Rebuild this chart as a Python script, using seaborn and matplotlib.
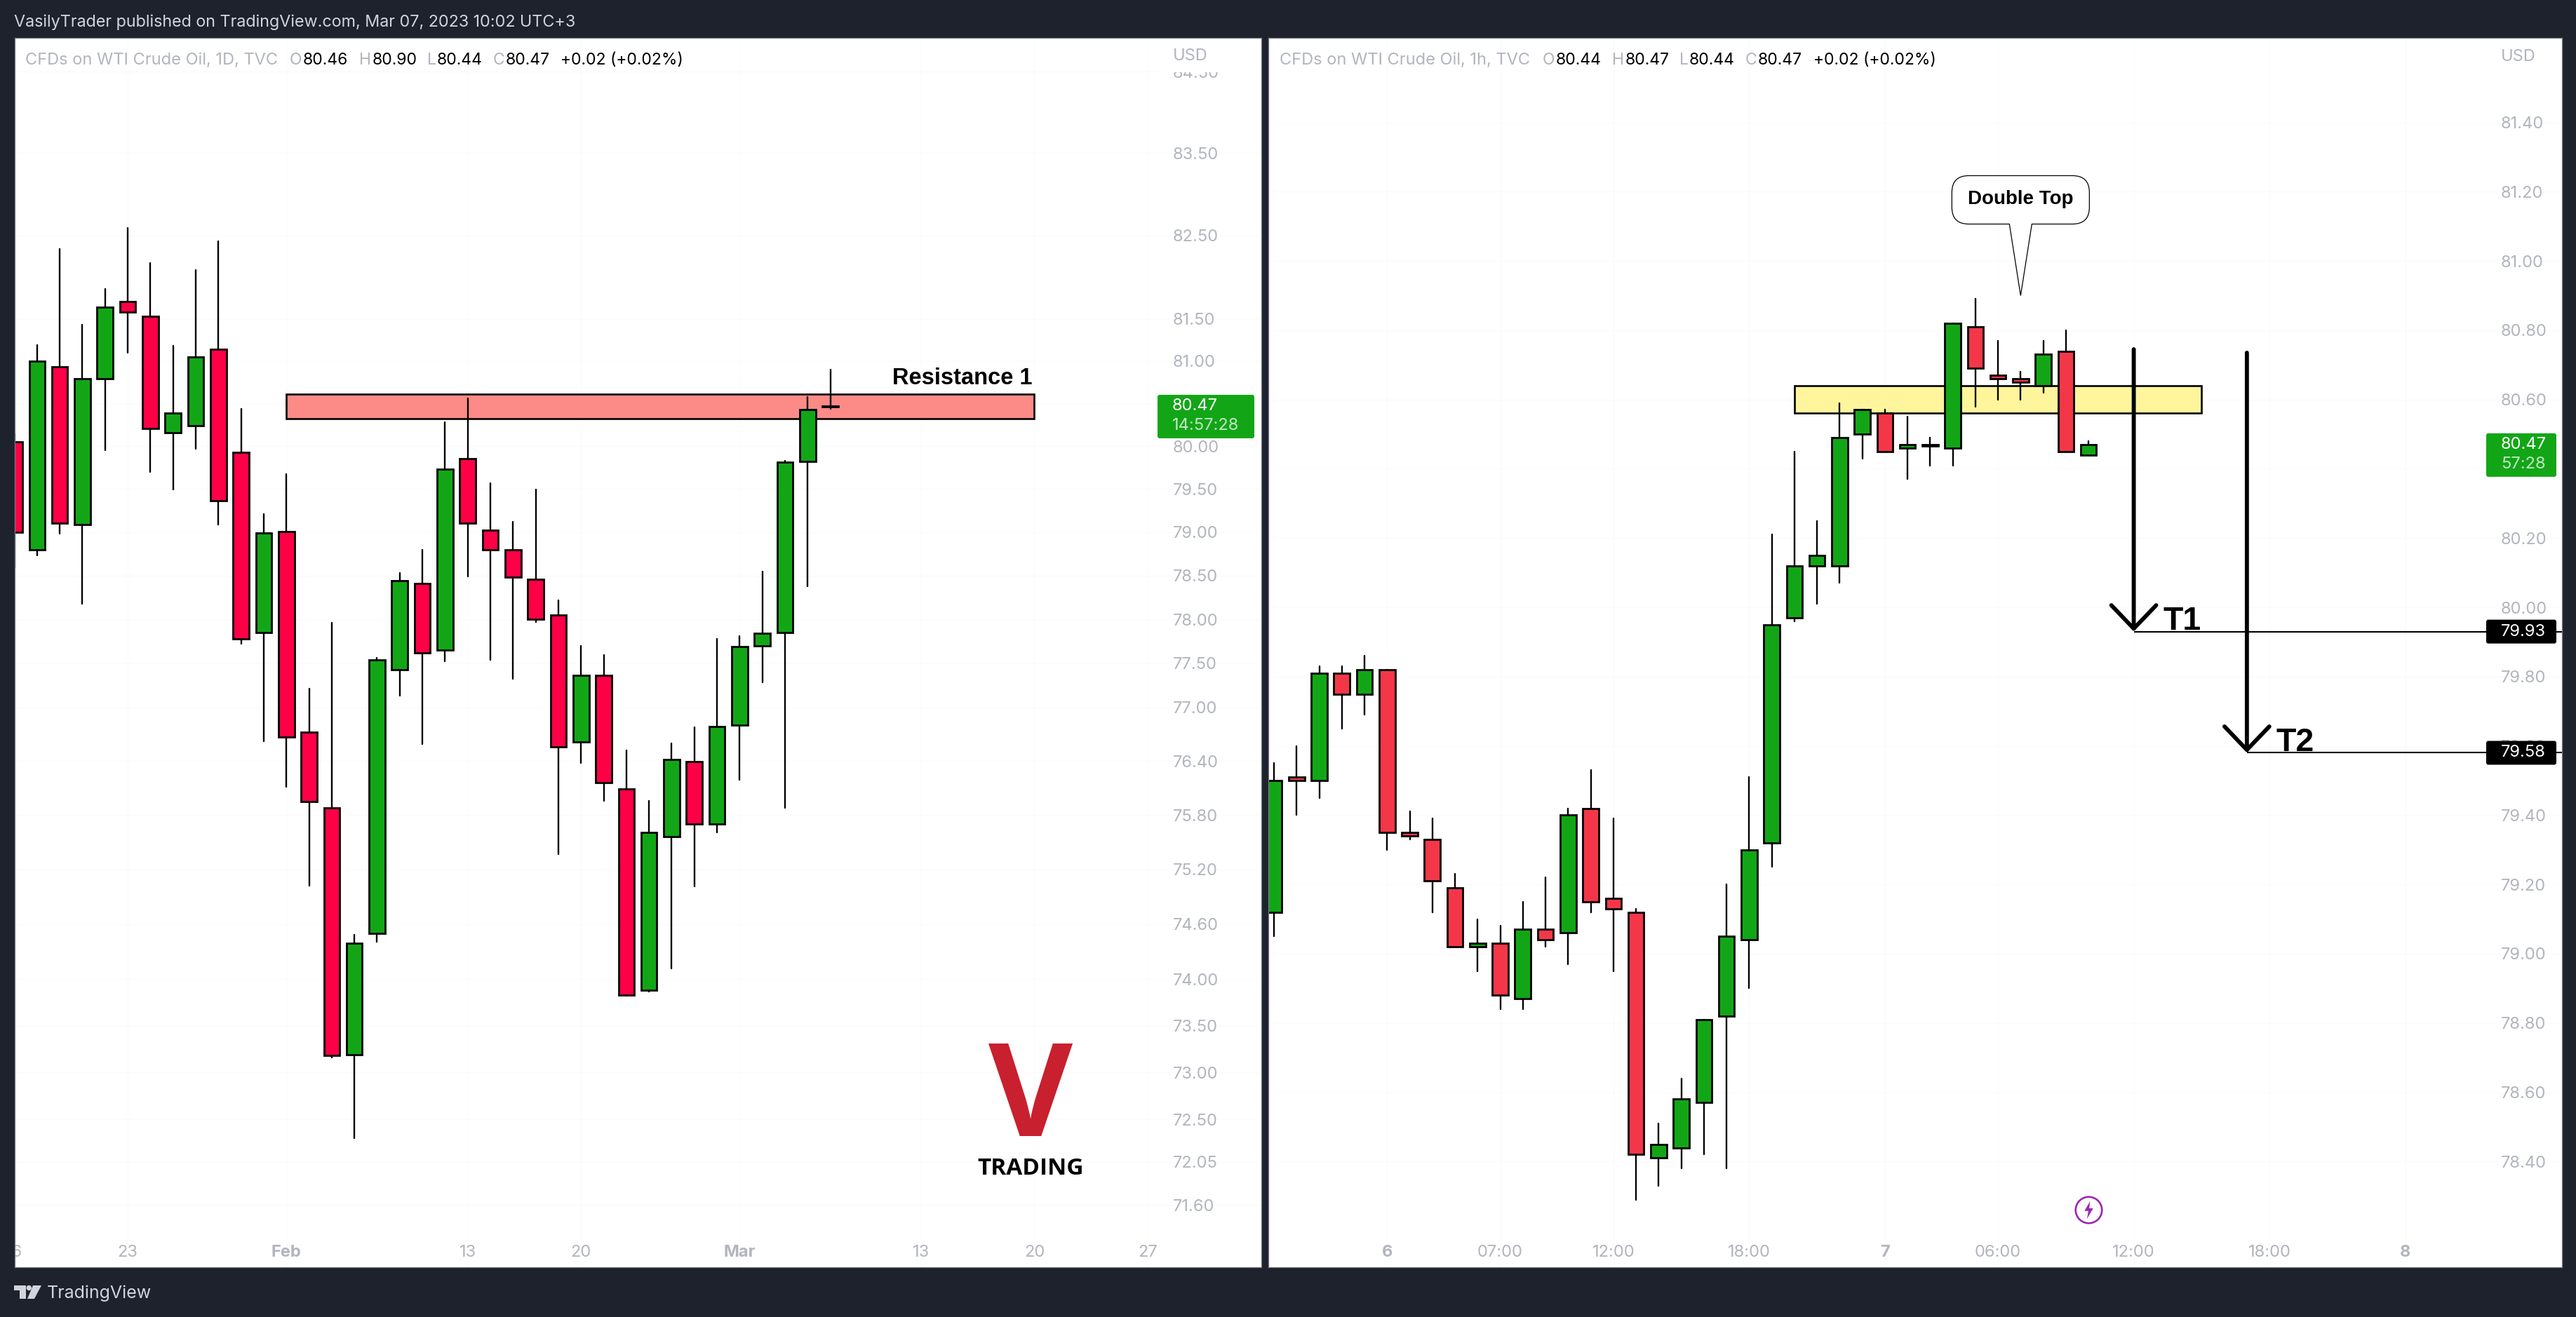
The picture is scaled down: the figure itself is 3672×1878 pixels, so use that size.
import matplotlib
matplotlib.use('Agg')
import matplotlib.pyplot as plt
import matplotlib.patches as mpatches
from matplotlib.path import Path
from matplotlib.ticker import NullLocator
from matplotlib.transforms import IdentityTransform
import pandas as pd
import seaborn as sns

# daily candles
d1_open = [80.05, 78.80, 80.93, 79.09, 80.79, 81.71, 81.53, 80.16, 80.24, 81.14, 79.93, 77.85, 79.01,
           76.72, 75.88, 73.19, 74.50, 77.43, 78.41, 77.65, 79.85, 79.02, 78.80, 78.46, 78.05, 76.61,
           77.36, 76.09, 73.88, 75.56, 76.39, 75.70, 76.80, 77.70, 77.85, 79.82, 80.46]
d1_high = [80.15, 81.19, 82.34, 81.43, 81.86, 82.59, 82.17, 81.18, 82.09, 82.43, 80.44, 79.21, 79.67,
           77.21, 77.96, 74.48, 77.56, 78.53, 78.80, 80.28, 80.56, 79.57, 79.12, 79.49, 78.22, 77.70,
           77.59, 76.52, 75.96, 76.60, 76.78, 77.78, 77.81, 78.55, 79.83, 80.58, 80.90]
d1_low = [78.59, 78.73, 78.98, 78.18, 79.95, 81.10, 79.70, 79.49, 79.97, 79.09, 77.72, 76.62, 76.11,
          75.02, 73.16, 72.30, 74.41, 77.13, 76.59, 77.52, 78.49, 77.54, 77.32, 77.97, 75.37, 76.38,
          75.96, 73.82, 73.87, 74.12, 75.01, 75.61, 76.19, 77.28, 75.88, 78.38, 80.44]
d1_close = [79.00, 81.00, 79.10, 80.79, 81.64, 81.58, 80.21, 80.39, 81.05, 79.36, 77.78, 78.99, 76.67,
            75.95, 73.18, 74.39, 77.54, 78.44, 77.62, 79.73, 79.10, 78.80, 78.48, 78.00, 76.56, 77.36,
            76.16, 73.83, 75.61, 76.42, 75.70, 76.79, 77.69, 77.84, 79.81, 80.43, 80.47]

# hourly candles
h1_open = [79.12, 79.51, 79.50, 79.81, 79.75, 79.82, 79.35, 79.33, 79.19, 79.02, 79.03, 78.87, 79.07,
           79.06, 79.42, 79.16, 79.12, 78.41, 78.44, 78.57, 78.82, 79.04, 79.32, 79.97, 80.12, 80.12,
           80.50, 80.56, 80.46, 80.465, 80.46, 80.81, 80.67, 80.66, 80.64, 80.74, 80.44]
h1_high = [79.55, 79.60, 79.83, 79.83, 79.86, 79.82, 79.41, 79.39, 79.23, 79.10, 79.08, 79.15, 79.22,
           79.42, 79.53, 79.39, 79.13, 78.51, 78.64, 78.81, 79.20, 79.51, 80.21, 80.45, 80.25, 80.59,
           80.57, 80.57, 80.55, 80.49, 80.82, 80.89, 80.77, 80.68, 80.77, 80.80, 80.48]
h1_low = [79.05, 79.40, 79.45, 79.65, 79.69, 79.30, 79.33, 79.12, 79.02, 78.95, 78.84, 78.84, 79.02,
          78.97, 79.12, 78.95, 78.29, 78.33, 78.38, 78.42, 78.38, 78.90, 79.25, 79.96, 80.01, 80.07,
          80.43, 80.45, 80.37, 80.41, 80.41, 80.58, 80.60, 80.60, 80.62, 80.45, 80.44]
h1_close = [79.50, 79.50, 79.81, 79.75, 79.82, 79.35, 79.34, 79.21, 79.02, 79.03, 78.88, 79.07, 79.04,
            79.40, 79.15, 79.13, 78.42, 78.45, 78.58, 78.81, 79.05, 79.30, 79.95, 80.12, 80.15, 80.49,
            80.57, 80.45, 80.47, 80.47, 80.82, 80.69, 80.66, 80.65, 80.73, 80.45, 80.47]

# axes
d1_yticks = [84.5, 83.5, 82.5, 81.5, 81.0, 80.5, 80.0, 79.5, 79.0, 78.5, 78.0, 77.5, 77.0, 76.4, 75.8,
             75.2, 74.6, 74.0, 73.5, 73.0, 72.5, 72.05, 71.6]
h1_yticks = [81.4, 81.2, 81.0, 80.8, 80.6, 80.4, 80.2, 80.0, 79.8, 79.6, 79.4, 79.2, 79.0, 78.8, 78.6, 78.4]
d1_xticks = [0, 5, 12, 20, 25, 32, 40, 45, 50]
d1_xlabels = ['16', '23', 'Feb', '13', '20', 'Mar', '13', '20', '27']
h1_xticks = [5, 10, 15, 21, 27, 32, 38, 44, 50]
h1_xlabels = ['6', '07:00', '12:00', '18:00', '7', '06:00', '12:00', '18:00', '8']
bold_labels = ['Feb', 'Mar', '6', '7', '8']

# drawings on the charts
resistance_zone = (12, 45, 80.32, 80.61)
double_top_zone = (23, 41, 80.56, 80.64)
targets = [('T1', 38, 80.745, 79.93), ('T2', 43, 80.735, 79.58)]
last_price = 80.47

BG = '#1E222D'
GREEN = '#12A617'
RED_D = '#FF0046'
RED_H = '#F43748'
AXIS_TXT = '#B2B5BE'
W, H = 3672, 1878

sns.set_theme(style='white')
plt.rcParams['font.family'] = ['Inter', 'DejaVu Sans']

fig = plt.figure(figsize=(W / 100, H / 100), dpi=100, facecolor=BG)


def make_axes(x0, x1, y0=54, y1=1807):
    return fig.add_axes([x0 / W, 1 - y1 / H, (x1 - x0) / W, (y1 - y0) / H])


def ptext(x, y, s, **kw):
    kw.setdefault('va', 'center')
    kw.setdefault('zorder', 8)
    return fig.text(x / W, 1 - y / H, s, **kw)


def prect(x0, y0, x1, y1, color, rounding=0, zorder=6):
    p = mpatches.FancyBboxPatch((x0, H - y1), x1 - x0, y1 - y0,
                                boxstyle=f'round,pad=0,rounding_size={rounding}',
                                fc=color, ec='none', transform=IdentityTransform(), zorder=zorder)
    fig.add_artist(p)


def draw_candles(ax, opens, highs, lows, closes, down_color):
    df = pd.DataFrame({'idx': range(len(opens)), 'open': opens, 'high': highs, 'low': lows, 'close': closes})
    wicks = df.melt(id_vars='idx', value_vars=['high', 'low'], value_name='price').sort_values('idx')
    sns.lineplot(data=wicks, x='idx', y='price', units='idx', estimator=None, color='black',
                 linewidth=1.7, sort=False, legend=False, ax=ax, zorder=0.8)
    df['bottom'] = df[['open', 'close']].min(axis=1)
    df['size'] = (df['close'] - df['open']).abs()
    for part, col in [(df[df['close'] >= df['open']], GREEN), (df[df['close'] < df['open']], down_color)]:
        sns.barplot(data=part, x='idx', y='size', bottom=part['bottom'].values, native_scale=True,
                    width=0.7, color=col, saturation=1, errorbar=None, edgecolor='black',
                    linewidth=2.0, ax=ax, zorder=1)
    ax.set(xlabel='', ylabel='')


def style_axes(ax, xlim, ylim, xticks, xlabels, yticks, ypad):
    ax.set_xlim(*xlim)
    ax.set_ylim(*ylim)
    ax.set_xticks(xticks, xlabels)
    ax.set_yticks(yticks, [f'{v:.2f}' for v in yticks])
    ax.yaxis.set_minor_locator(NullLocator())
    ax.yaxis.tick_right()
    ax.tick_params(axis='y', length=0, pad=ypad, labelsize=17, labelcolor=AXIS_TXT)
    ax.tick_params(axis='x', length=0, pad=-23, labelsize=17, labelcolor=AXIS_TXT)
    ax.set_axisbelow(True)
    ax.grid(True, color='#FBFBFC', linewidth=1)
    for lab in ax.get_xticklabels():
        lab.set_clip_on(True)
        lab.set_clip_box(ax.bbox)
        if lab.get_text() in bold_labels:
            lab.set_fontweight('bold')
    for sp in ax.spines.values():
        sp.set_color('#787B86')
        sp.set_linewidth(0.9)


def price_tag(ax, price, x0, x1, xtext, lines, color, top=16, bottom=18):
    y = H - ax.transData.transform((0, price))[1]
    prect(x0, y - top, x1, y + bottom, color, rounding=3)
    ptext(xtext, y, lines[0], color='white', fontsize=17)
    if len(lines) > 1:
        ptext(xtext, y + 28, lines[1], color='#C2E8C4', fontsize=17)


# left panel, 1D
ax1 = make_axes(20.5, 1797.5)
ax1.set_yscale('log')
draw_candles(ax1, d1_open, d1_high, d1_low, d1_close, RED_D)
style_axes(ax1, (0.034, 55.0), (70.95, 84.92), d1_xticks, d1_xlabels, d1_yticks, -90.7)
x0, x1, y0, y1 = resistance_zone
ax1.add_patch(mpatches.Rectangle((x0, y0), x1 - x0, y1 - y0, fc='#FC8A86', ec='black', lw=1.9, zorder=0.6))
ax1.text(x1 - 0.08, 80.73, 'Resistance 1', ha='right', va='baseline', family='Liberation Sans',
         fontweight='bold', fontsize=23.5, color='black')

# right panel, 1h
ax2 = make_axes(1808, 3651.5)
draw_candles(ax2, h1_open, h1_high, h1_low, h1_close, RED_H)
style_axes(ax2, (-0.248, 56.91), (78.095, 81.644), h1_xticks, h1_xlabels, h1_yticks, -62.3)
x0, x1, y0, y1 = double_top_zone
ax2.add_patch(mpatches.Rectangle((x0, y0), x1 - x0, y1 - y0, fc='#FFF59D', ec='black', lw=1.9, zorder=0.6))

for name, xpos, start, end in targets:
    ax2.hlines(end, xpos, 56.91, color='black', lw=1.5, zorder=3)
    ax2.annotate('', xy=(xpos, end), xytext=(xpos, start), zorder=4,
                 arrowprops=dict(arrowstyle='->,head_length=24,head_width=23', mutation_scale=1,
                                 lw=4.2, color='black', shrinkA=0, shrinkB=0,
                                 capstyle='round', joinstyle='round'))
    ax2.text(xpos + 1.3, end + 0.006, name, ha='left', va='baseline', family='Liberation Sans',
             fontweight='bold', fontsize=33.5, color='black', zorder=4)

# speech bubble pointing at the double top
tip_x, tip_y = ax2.transData.transform((33, 80.90))
L, R, T, B, r, tw = tip_x - 98, tip_x + 98, tip_y + 171, tip_y + 102, 24, 16
verts = [(L + r, B), (tip_x - tw, B), (tip_x, tip_y), (tip_x + tw, B), (R - r, B), (R, B), (R, B + r),
         (R, T - r), (R, T), (R - r, T), (L + r, T), (L, T), (L, T - r), (L, B + r), (L, B), (L + r, B)]
codes = [Path.MOVETO, Path.LINETO, Path.LINETO, Path.LINETO, Path.LINETO, Path.CURVE3, Path.CURVE3,
         Path.LINETO, Path.CURVE3, Path.CURVE3, Path.LINETO, Path.CURVE3, Path.CURVE3, Path.LINETO,
         Path.CURVE3, Path.CURVE3]
fig.add_artist(mpatches.PathPatch(Path(verts, codes), fc='white', ec='black', lw=0.9,
                                  transform=IdentityTransform(), zorder=6))
ptext(tip_x, H - tip_y - 137, 'Double Top', ha='center', family='Liberation Sans', fontweight='bold',
      fontsize=20, color='black')

# bolt marker
bolt = Path([(0.15, 1), (-0.5, -0.1), (-0.05, -0.1), (-0.2, -1), (0.5, 0.2), (0.05, 0.2), (0.15, 1)])
ax2.plot([36], [78.26], 'o', ms=27, mfc='white', mec='#9C27B0', mew=1.9, zorder=3)
ax2.plot([36], [78.26], marker=bolt, ms=18, color='#9C27B0', mew=0, zorder=4)

# price tags on the scales
price_tag(ax1, last_price, 1650, 1788, 1671, ['80.47', '14:57:28'], GREEN, top=16, bottom=46)
price_tag(ax2, last_price, 3544, 3644, 3565, ['80.47', '57:28'], GREEN, top=16, bottom=46)
for name, xpos, start, end in targets:
    price_tag(ax2, end, 3544, 3644, 3565, [f'{end:.2f}'], 'black', top=17, bottom=17)

# USD labels, the left one hides the top of the highest tick
prect(1650, 56, 1795, 103, 'white', zorder=5)
ptext(1672, 80, 'USD', color=AXIS_TXT, fontsize=17)
ptext(3565, 81, 'USD', color=AXIS_TXT, fontsize=17)

# header lines
ptext(20, 32, 'VasilyTrader published on TradingView.com, Mar 07, 2023 10:02 UTC+3', color='#D1D4DC', fontsize=16.8)
for x, s, c, size in [(36, 'CFDs on WTI Crude Oil, 1D, TVC', AXIS_TXT, 17), (413, 'O', AXIS_TXT, 16.5),
                      (432, '80.46', 'black', 16.5), (512, 'H', AXIS_TXT, 16.5), (531, '80.90', 'black', 16.5),
                      (609, 'L', AXIS_TXT, 16.5), (623, '80.44', 'black', 16.5), (703, 'C', AXIS_TXT, 16.5),
                      (721, '80.47', 'black', 16.5), (799, '+0.02 (+0.02%)', 'black', 16.5),
                      (1824, 'CFDs on WTI Crude Oil, 1h, TVC', AXIS_TXT, 17), (2199, 'O', AXIS_TXT, 16.5),
                      (2218, '80.44', 'black', 16.5), (2298, 'H', AXIS_TXT, 16.5), (2317, '80.47', 'black', 16.5),
                      (2394, 'L', AXIS_TXT, 16.5), (2408, '80.44', 'black', 16.5), (2488, 'C', AXIS_TXT, 16.5),
                      (2506, '80.47', 'black', 16.5), (2585, '+0.02 (+0.02%)', 'black', 16.5)]:
    ptext(x, 86, s, color=c, fontsize=size)

# V TRADING logo
ptext(1469.5, 1620, 'V', ha='center', va='baseline', family='Open Sans', fontweight='bold',
      fontsize=133, color='#C8202F')
ptext(1469.5, 1675, 'TRADING', ha='center', va='baseline', family='Open Sans', fontweight='bold',
      fontsize=24, color='black')

# TradingView footer
LOGO = '#D1D4DC'
for pts in [[(20, 1833), (37, 1833), (37, 1852), (27.5, 1852), (27.5, 1840), (20, 1840)],
            [(47, 1833), (59, 1833), (49, 1852), (39, 1852)]]:
    fig.add_artist(mpatches.Polygon([(a, H - b) for a, b in pts], fc=LOGO, ec='none',
                                    transform=IdentityTransform(), zorder=6))
fig.add_artist(mpatches.Circle((41.3, H - 1836.5), 3.7, fc=LOGO, ec='none',
                               transform=IdentityTransform(), zorder=6))
ptext(67, 1844, 'TradingView', color=LOGO, fontsize=18)

fig.savefig('out.png', dpi=100, facecolor=BG)
